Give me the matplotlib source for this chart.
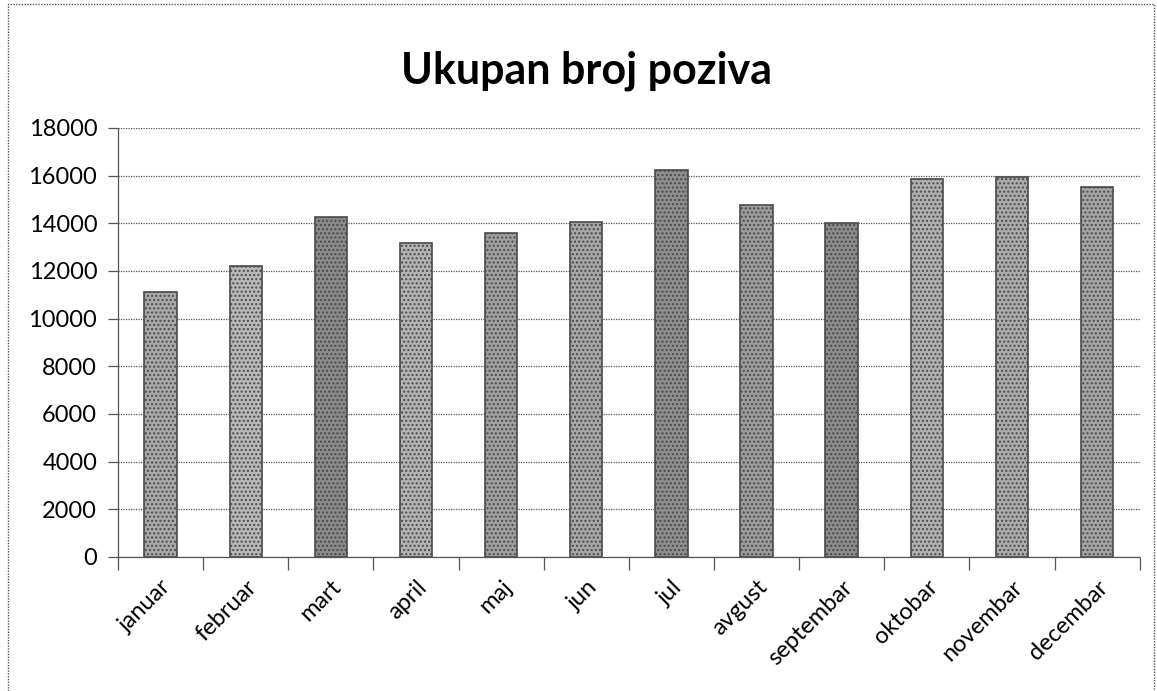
import matplotlib.pyplot as plt
from matplotlib.patches import Rectangle
import numpy as np

months = ["januar", "februar", "mart", "april", "maj", "jun",
          "jul", "avgust", "septembar", "oktobar", "novembar", "decembar"]
calls = [11100, 12200, 14250, 13150, 13600, 14050,
         16250, 14750, 14000, 15850, 15950, 15500]
# shade of each bar (the scanned texture is darker on some months)
shades = ["#a9a9a9", "#b8b8b8", "#8a8a8a", "#b3b3b3", "#a0a0a0", "#a6a6a6",
          "#8e8e8e", "#9c9c9c", "#8c8c8c", "#b0b0b0", "#ababab", "#a4a4a4"]
y_ticks = [0, 2000, 4000, 6000, 8000, 10000, 12000, 14000, 16000, 18000]

plt.rcParams["font.family"] = ["Lato", "DejaVu Sans"]

fig = plt.figure(figsize=(11.57, 6.91), dpi=100)
ax = fig.add_axes([0.102, 0.194, 0.883, 0.621])

x = np.arange(len(months))
ax.bar(x, calls, width=0.38, color=shades, edgecolor="#4a4a4a",
       linewidth=1.2, hatch="....", zorder=3)

ax.set_xlim(-0.5, len(months) - 0.5)
ax.set_ylim(0, 18000)
ax.set_yticks(y_ticks)
ax.set_yticklabels([str(v) for v in y_ticks], fontsize=17)
ax.grid(axis="y", color="#555555", linestyle=(0, (1, 1)), linewidth=0.9, zorder=0)

ax.set_xticks(x)
ax.set_xticklabels(months, rotation=45, ha="right", rotation_mode="anchor", fontsize=17)
ax.tick_params(axis="x", which="major", length=0, pad=14)
ax.set_xticks(np.arange(len(months) + 1) - 0.5, minor=True)
ax.tick_params(axis="x", which="minor", length=9, width=0.9, color="#555555", direction="out")
ax.tick_params(axis="y", length=7, width=0.9, color="#555555", pad=8)

for s in ["top", "right"]:
    ax.spines[s].set_visible(False)
for s in ["left", "bottom"]:
    ax.spines[s].set_linestyle((0, (1, 1)))
    ax.spines[s].set_color("#555555")
    ax.spines[s].set_linewidth(0.9)

fig.text(0.507, 0.897, "Ukupan broj poziva", ha="center", va="center",
         fontsize=31, fontweight="bold")

# outer chart frame
fig.patches.append(Rectangle((0.007, -0.02), 0.99, 1.014, transform=fig.transFigure,
                             fill=False, edgecolor="#555555", linewidth=1.0,
                             linestyle=(0, (1, 1))))

fig.savefig("out.png", dpi=100)
